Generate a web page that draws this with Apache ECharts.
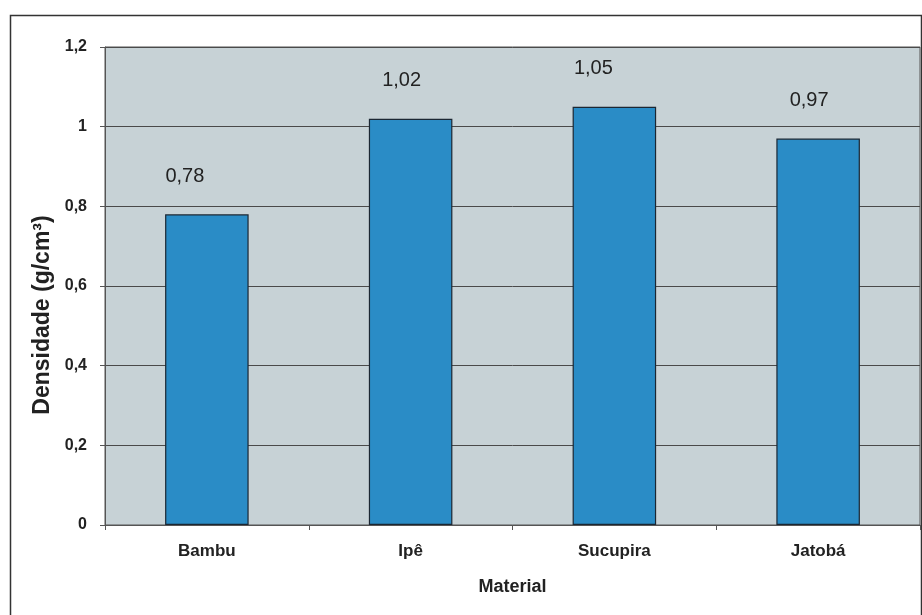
<!DOCTYPE html>
<html>
<head>
<meta charset="utf-8">
<script src="https://cdn.jsdelivr.net/npm/echarts@6/dist/echarts.min.js"></script>
<style>html,body{margin:0;padding:0;background:#fff;}#c{width:922px;height:615px;}</style>
</head>
<body>
<div id="c"></div>
<script>
var categories = ['Bambu', 'Ipê', 'Sucupira', 'Jatobá'];
var densidade = [0.78, 1.02, 1.05, 0.97];
var yTicks = [0, 0.2, 0.4, 0.6, 0.8, 1, 1.2];

var chart = echarts.init(document.getElementById('c'), null, {renderer: 'canvas'});
var fmt = function (v) { return String(v).replace('.', ','); };
// labels in the original were nudged left by hand, by differing amounts
var labelNudge = [-22, -9, -21, -9];
chart.setOption({
  animation: false,
  backgroundColor: '#ffffff',
  graphic: [{
    type: 'rect',
    shape: {x: 10.5, y: 15.5, width: 911, height: 640},
    style: {fill: 'none', stroke: '#333', lineWidth: 1.5},
    silent: true, z: -1
  }],
  grid: {
    left: 105, right: 2, top: 47, bottom: 90,
    show: true, backgroundColor: '#c7d2d6', borderColor: '#555', borderWidth: 1
  },
  xAxis: {
    type: 'category',
    data: categories,
    name: 'Material',
    nameLocation: 'middle',
    nameGap: 53,
    nameTextStyle: {fontFamily: 'Liberation Sans', fontSize: 18, fontWeight: 'bold', color: '#222'},
    axisLine: {lineStyle: {color: '#555', width: 1}},
    axisTick: {show: true, length: 5, lineStyle: {color: '#555'}},
    axisLabel: {fontFamily: 'Liberation Sans', fontSize: 17, color: '#222', margin: 18, fontWeight: 'bold'},
    splitLine: {show: false}
  },
  yAxis: {
    type: 'value',
    min: 0, max: 1.2, interval: 0.2,
    name: 'Densidade (g/cm³)',
    nameLocation: 'middle',
    nameGap: 48,
    nameTextStyle: {fontFamily: 'Liberation Sans', fontSize: 23, fontWeight: 'bold', color: '#222', padding: [0, 58, 0, 0]},
    axisLine: {show: true, lineStyle: {color: '#555', width: 1}},
    axisTick: {show: true, length: 5, inside: false, lineStyle: {color: '#555'}},
    axisLabel: {
      fontFamily: 'Liberation Sans', fontSize: 16, color: '#222', margin: 18, fontWeight: 'bold',
      formatter: function (v) {
        var t = yTicks.reduce(function (a, b) { return Math.abs(b - v) < Math.abs(a - v) ? b : a; });
        return fmt(t);
      }
    },
    splitLine: {show: true, lineStyle: {color: '#4a4a4a', width: 1}}
  },
  series: [{
    type: 'bar',
    data: densidade.map(function (v, i) {
      return {value: v, label: {offset: [labelNudge[i], 0]}};
    }),
    barCategoryGap: '59%',
    itemStyle: {color: '#2a8cc6', borderColor: '#1b2733', borderWidth: 1.2},
    label: {
      show: true, position: 'top', distance: 28,
      fontFamily: 'Liberation Sans', fontSize: 20, color: '#222',
      formatter: function (p) { return fmt(p.value.toFixed(2)); }
    }
  }]
});
</script>
</body>
</html>
